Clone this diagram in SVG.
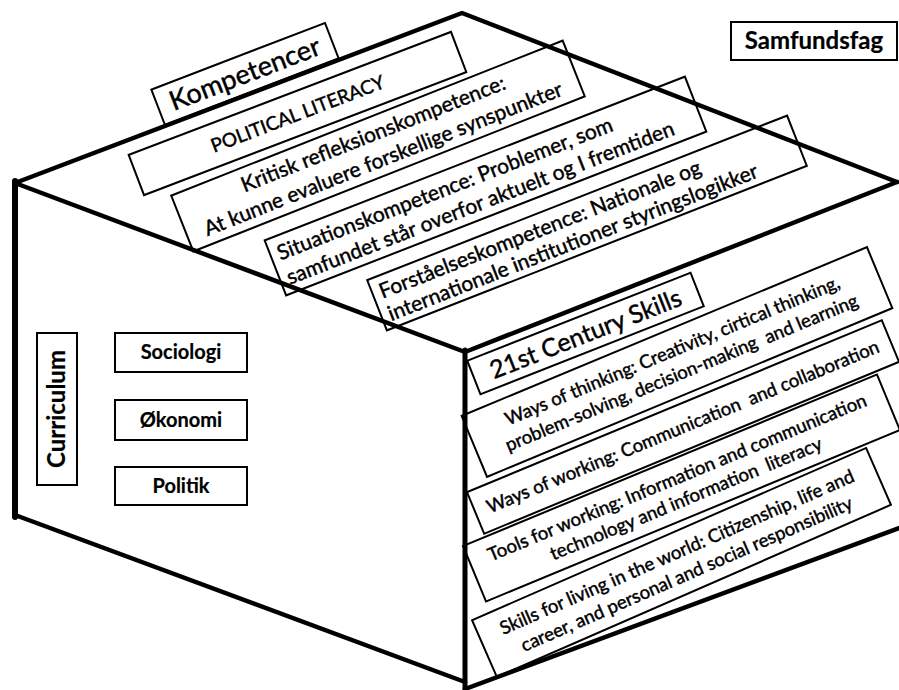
<svg xmlns="http://www.w3.org/2000/svg" width="899" height="690" viewBox="0 0 899 690">
<style>
.box{fill:#fff;stroke:#000;stroke-width:2}
.edge{fill:none;stroke:#000;stroke-width:4.5;stroke-linecap:round;stroke-linejoin:round}
text{font-family:Lato,"Liberation Sans",sans-serif;fill:#000;text-anchor:middle;stroke:#000;stroke-width:0.45}
.b{font-weight:bold;stroke-width:0.2}
.t{font-size:21px}
.r{font-size:18.5px}
.s{text-anchor:start}
.pre{white-space:pre}
</style>
<rect width="899" height="690" fill="#fff"/>

<g id="samfundsfag"><rect class="box" x="731" y="22" width="166" height="38"/><text class="b" x="814" y="49" font-size="24">Samfundsfag</text></g>

<g id="kompetencer" transform="translate(245,74) rotate(-21)"><rect class="box" x="-93" y="-19" width="186" height="38"/><text y="9" font-size="27">Kompetencer</text></g>
<g id="political-literacy" transform="translate(297.5,113.5) rotate(-20.9)"><rect class="box" x="-172.5" y="-21.5" width="345" height="43"/><text y="7" font-size="19">POLITICAL LITERACY</text></g>
<g id="kritisk" transform="translate(378,146) rotate(-21.6)"><rect class="box" x="-210.5" y="-30" width="421" height="60"/><text class="t" y="-6">Kritisk refleksionskompetence:</text><text class="t" y="21">At kunne evaluere forskellige synspunkter</text></g>
<g id="situation" transform="translate(485.5,186) rotate(-21.3)"><rect class="box" x="-225.5" y="-29.5" width="451" height="59"/><text class="t s" x="-218" y="-5">Situationskompetence: Problemer, som</text><text class="t s" x="-218" y="21">samfundet står overfor aktuelt og I fremtiden</text></g>
<g id="forstaaelse" transform="translate(587,223) rotate(-21.4)"><rect class="box" x="-225.5" y="-27" width="451" height="54"/><text class="t s" x="-218" y="-4">Forståelseskompetence: Nationale og</text><text class="t s" x="-218" y="20">internationale institutioner styringslogikker</text></g>

<g id="century-skills" transform="translate(585.5,333.5) rotate(-21.5)"><rect class="box" x="-120" y="-18" width="240" height="36"/><text y="9" font-size="25">21st Century Skills</text></g>
<g id="ways-thinking" transform="translate(677,362) rotate(-22.6)"><rect class="box" x="-219.5" y="-33" width="439" height="66"/><text class="r" y="-6">Ways of thinking: Creativity, cirtical thinking,</text><text class="r pre" y="18">problem-solving, decision-making  and learning</text></g>
<g id="ways-working" transform="translate(683,427) rotate(-22.5)"><rect class="box" x="-224.5" y="-22.5" width="449" height="45"/><text class="r pre" y="6">Ways of working: Communication  and collaboration</text></g>
<g id="tools-working" transform="translate(681.5,488) rotate(-22.5)"><rect class="box" x="-224" y="-30" width="448" height="60"/><text class="r" y="-5">Tools for working: Information and communication</text><text class="r pre" y="18">technology and information  literacy</text></g>
<g id="skills-living" transform="translate(681.5,562.5) rotate(-23.6)"><rect class="box" x="-215" y="-31" width="430" height="62"/><text class="r" y="-5">Skills for living in the world: Citizenship, life and</text><text class="r" y="19">career, and personal and social responsibility</text></g>

<g id="cube">
<path class="edge" d="M15,183 L462,13 L897,182"/>
<path class="edge" d="M15,183 L465,352 L897,182"/>
<path class="edge" d="M15,515 L465,682"/>
<path class="edge" d="M465,689 L899,528"/>
<path class="edge" d="M15,181 V517" style="stroke-width:6"/>
<path class="edge" d="M465,350 V692" style="stroke-width:5"/>
</g>

<g id="curriculum"><rect class="box" x="37" y="333" width="40" height="152"/><text class="b" transform="translate(65,409) rotate(-90)" font-size="24">Curriculum</text></g>
<g id="sociologi"><rect class="box" x="115" y="333" width="132" height="39"/><text class="b" x="181" y="359" font-size="20">Sociologi</text></g>
<g id="okonomi"><rect class="box" x="115" y="400" width="132" height="40"/><text class="b" x="181" y="427" font-size="20">Økonomi</text></g>
<g id="politik"><rect class="box" x="115" y="467" width="132" height="38"/><text class="b" x="181" y="493" font-size="20">Politik</text></g>
</svg>
